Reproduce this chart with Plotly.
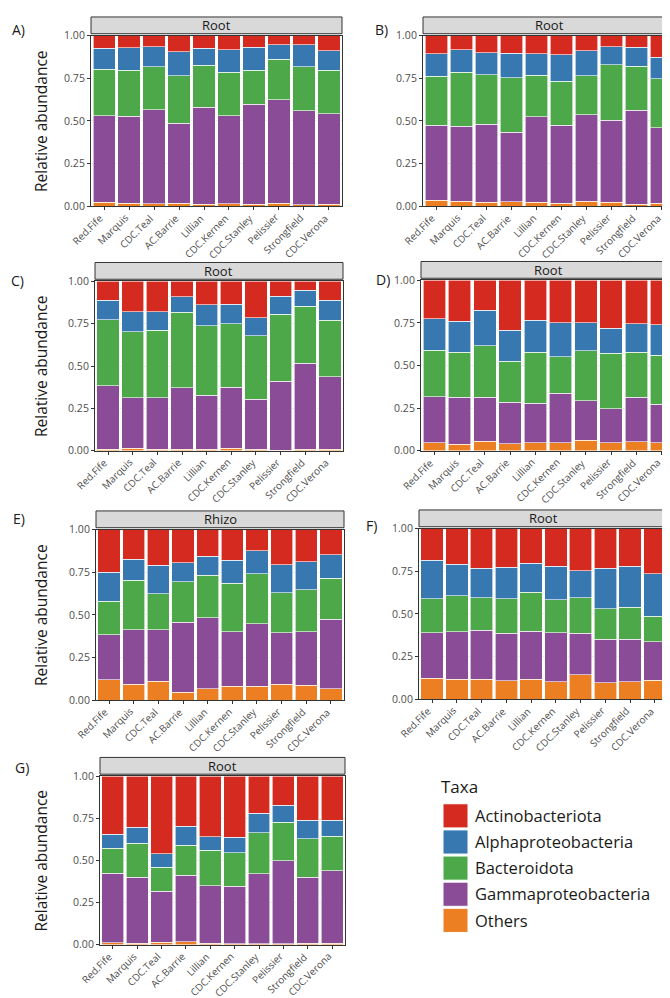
import plotly.graph_objects as go

W, H = 670, 998

cultivars = ["Red.Fife", "Marquis", "CDC.Teal", "AC.Barrie", "Lillian",
             "CDC.Kernen", "CDC.Stanley", "Pelissier", "Strongfield", "CDC.Verona"]
taxa = ["Actinobacteriota", "Alphaproteobacteria", "Bacteroidota",
        "Gammaproteobacteria", "Others"]
taxa_colors = ["#D52A1F", "#3778B1", "#4DA84A", "#8A4B97", "#EB7F22"]
panel_letters = ["A)", "B)", "C)", "D)", "E)", "F)", "G)"]
strip_titles = ["Root", "Root", "Root", "Root", "Rhizo", "Root", "Root"]
y_ticks = [0, 0.25, 0.5, 0.75, 1.0]
y_tick_labels = ["0.00", "0.25", "0.50", "0.75", "1.00"]

# ---- Panel A ----
A_others = [0.023, 0.017, 0.015, 0.019, 0.013, 0.015, 0.013, 0.017, 0.010, 0.012]
A_gamma  = [0.507, 0.511, 0.551, 0.467, 0.569, 0.515, 0.584, 0.607, 0.549, 0.529]
A_bact   = [0.273, 0.270, 0.251, 0.279, 0.245, 0.256, 0.201, 0.237, 0.260, 0.257]
A_alpha  = [0.122, 0.131, 0.119, 0.141, 0.100, 0.133, 0.133, 0.087, 0.127, 0.113]
A_actino = [0.075, 0.071, 0.064, 0.094, 0.073, 0.081, 0.069, 0.052, 0.054, 0.089]
# ---- Panel B ----
B_others = [0.035, 0.029, 0.023, 0.027, 0.025, 0.019, 0.029, 0.025, 0.012, 0.019]
B_gamma  = [0.439, 0.439, 0.457, 0.406, 0.501, 0.455, 0.509, 0.480, 0.551, 0.441]
B_bact   = [0.288, 0.317, 0.290, 0.321, 0.242, 0.259, 0.228, 0.325, 0.259, 0.289]
B_alpha  = [0.132, 0.132, 0.131, 0.142, 0.126, 0.155, 0.145, 0.106, 0.110, 0.125]
B_actino = [0.106, 0.083, 0.099, 0.104, 0.106, 0.112, 0.089, 0.064, 0.068, 0.126]
# ---- Panel C ----
C_others = [0.010, 0.014, 0.010, 0.010, 0.008, 0.016, 0.008, 0.004, 0.008, 0.008]
C_gamma  = [0.374, 0.298, 0.304, 0.362, 0.320, 0.358, 0.296, 0.407, 0.508, 0.430]
C_bact   = [0.389, 0.391, 0.397, 0.444, 0.410, 0.374, 0.374, 0.393, 0.335, 0.333]
C_alpha  = [0.115, 0.117, 0.109, 0.093, 0.122, 0.116, 0.107, 0.107, 0.097, 0.117]
C_actino = [0.112, 0.180, 0.180, 0.091, 0.140, 0.136, 0.215, 0.089, 0.052, 0.112]
# ---- Panel D ----
D_others = [0.046, 0.037, 0.056, 0.040, 0.046, 0.046, 0.063, 0.046, 0.052, 0.046]
D_gamma  = [0.271, 0.276, 0.257, 0.245, 0.233, 0.291, 0.229, 0.200, 0.263, 0.227]
D_bact   = [0.273, 0.266, 0.302, 0.240, 0.300, 0.215, 0.295, 0.325, 0.264, 0.287]
D_alpha  = [0.185, 0.181, 0.208, 0.183, 0.186, 0.200, 0.165, 0.148, 0.165, 0.180]
D_actino = [0.225, 0.240, 0.177, 0.292, 0.235, 0.248, 0.248, 0.281, 0.256, 0.260]
# ---- Panel E ----
E_others = [0.120, 0.093, 0.112, 0.048, 0.066, 0.081, 0.081, 0.093, 0.089, 0.066]
E_gamma  = [0.265, 0.321, 0.302, 0.410, 0.418, 0.321, 0.368, 0.302, 0.313, 0.410]
E_bact   = [0.195, 0.290, 0.209, 0.238, 0.249, 0.285, 0.292, 0.236, 0.246, 0.238]
E_alpha  = [0.169, 0.122, 0.168, 0.111, 0.110, 0.135, 0.135, 0.164, 0.164, 0.139]
E_actino = [0.251, 0.174, 0.209, 0.193, 0.157, 0.178, 0.124, 0.205, 0.188, 0.147]
# ---- Panel F ----
F_others = [0.123, 0.118, 0.116, 0.110, 0.118, 0.104, 0.145, 0.098, 0.102, 0.112]
F_gamma  = [0.268, 0.277, 0.289, 0.278, 0.281, 0.287, 0.243, 0.255, 0.251, 0.225]
F_bact   = [0.199, 0.212, 0.191, 0.202, 0.228, 0.193, 0.208, 0.177, 0.187, 0.151]
F_alpha  = [0.225, 0.185, 0.171, 0.183, 0.171, 0.195, 0.158, 0.237, 0.241, 0.247]
F_actino = [0.185, 0.208, 0.233, 0.227, 0.202, 0.221, 0.246, 0.233, 0.219, 0.265]
# ---- Panel G ----
G_others = [0.012, 0.008, 0.014, 0.019, 0.008, 0.006, 0.006, 0.006, 0.010, 0.008]
G_gamma  = [0.412, 0.393, 0.302, 0.394, 0.343, 0.341, 0.415, 0.492, 0.391, 0.430]
G_bact   = [0.148, 0.200, 0.143, 0.176, 0.209, 0.200, 0.244, 0.229, 0.227, 0.205]
G_alpha  = [0.083, 0.097, 0.080, 0.113, 0.080, 0.091, 0.116, 0.101, 0.110, 0.095]
G_actino = [0.345, 0.302, 0.461, 0.298, 0.360, 0.362, 0.219, 0.172, 0.262, 0.262]

panels = [
    {"Actinobacteriota": A_actino, "Alphaproteobacteria": A_alpha, "Bacteroidota": A_bact, "Gammaproteobacteria": A_gamma, "Others": A_others},
    {"Actinobacteriota": B_actino, "Alphaproteobacteria": B_alpha, "Bacteroidota": B_bact, "Gammaproteobacteria": B_gamma, "Others": B_others},
    {"Actinobacteriota": C_actino, "Alphaproteobacteria": C_alpha, "Bacteroidota": C_bact, "Gammaproteobacteria": C_gamma, "Others": C_others},
    {"Actinobacteriota": D_actino, "Alphaproteobacteria": D_alpha, "Bacteroidota": D_bact, "Gammaproteobacteria": D_gamma, "Others": D_others},
    {"Actinobacteriota": E_actino, "Alphaproteobacteria": E_alpha, "Bacteroidota": E_bact, "Gammaproteobacteria": E_gamma, "Others": E_others},
    {"Actinobacteriota": F_actino, "Alphaproteobacteria": F_alpha, "Bacteroidota": F_bact, "Gammaproteobacteria": F_gamma, "Others": F_others},
    {"Actinobacteriota": G_actino, "Alphaproteobacteria": G_alpha, "Bacteroidota": G_bact, "Gammaproteobacteria": G_gamma, "Others": G_others},
]

# Plot-area boxes in pixels: (left, right, top, bottom)
boxes = [
    (83, 334, 21, 194),
    (415, 667, 21, 194),
    (87, 335, 270, 442),
    (413, 667, 269, 442),
    (88, 336, 522, 695),
    (411, 660, 521, 694),
    (92, 337, 772, 943),
]
strip_h = 17
label_pos = [(2, 15), (365, 15), (1, 269), (366, 268), (3, 511), (356, 518), (5, 763)]
ytitle_panels = [0, 2, 4, 6]

FONT = "Open Sans, Lato, sans-serif"


def px_x(x):
    return x / W


def px_y(y):
    return 1 - y / H


fig = go.Figure()
shapes, annotations = [], []

stack_order = ["Others", "Gammaproteobacteria", "Bacteroidota", "Alphaproteobacteria", "Actinobacteriota"]
color_of = dict(zip(taxa, taxa_colors))

for i, data in enumerate(panels):
    k = "" if i == 0 else str(i + 1)
    for t in stack_order:
        fig.add_trace(go.Bar(
            x=cultivars, y=data[t], name=t,
            marker=dict(color=color_of[t], line=dict(color="white", width=0.6)),
            xaxis="x" + k, yaxis="y" + k, showlegend=False,
            hovertemplate="%{x}<br>" + t + ": %{y:.3f}<extra></extra>",
        ))
    l, r, tp, b = boxes[i]
    fig.update_layout(**{
        "xaxis" + k: dict(
            domain=[px_x(l), px_x(r)], anchor="y" + k,
            range=[-0.53, 9.53], showline=True, mirror=True,
            linecolor="#333333", linewidth=1, ticks="outside", ticklen=3,
            tickcolor="#333333", showticklabels=False,
            showgrid=False, zeroline=False,
        ),
        "yaxis" + k: dict(
            domain=[px_y(b), px_y(tp)], anchor="x" + k,
            range=[0, 1.0], tickvals=y_ticks, ticktext=y_tick_labels,
            showline=True, mirror=True, linecolor="#333333", linewidth=1,
            ticks="outside", ticklen=3, tickcolor="#333333",
            tickfont=dict(family=FONT, size=10.5, color="#4D4D4D"),
            showgrid=True, gridcolor="#EBEBEB", zeroline=False,
        ),
    })
    # rotated category labels, ending at each tick (ggplot style)
    for c in cultivars:
        annotations.append(dict(
            text=c, xref="x" + k, yref="paper", x=c, y=px_y(b + 2),
            xshift=5, textangle=-45, showarrow=False,
            xanchor="right", yanchor="top",
            font=dict(family=FONT, size=10, color="#4D4D4D"),
        ))
    # strip header
    shapes.append(dict(type="rect", xref="paper", yref="paper",
                       x0=px_x(l), x1=px_x(r), y0=px_y(tp - 2), y1=px_y(tp - 2 - strip_h),
                       fillcolor="#D9D9D9", line=dict(color="#333333", width=1)))
    annotations.append(dict(text=strip_titles[i], xref="paper", yref="paper",
                            x=px_x((l + r) / 2), y=px_y(tp - 2 - strip_h / 2),
                            showarrow=False, font=dict(family=FONT, size=13, color="#1A1A1A"),
                            xanchor="center", yanchor="middle"))
    # panel letter
    lx, ly = label_pos[i]
    annotations.append(dict(text=panel_letters[i], xref="paper", yref="paper",
                            x=px_x(lx), y=px_y(ly), showarrow=False,
                            font=dict(family=FONT, size=14, color="#1A1A1A"),
                            xanchor="left", yanchor="middle"))
    if i in ytitle_panels:
        annotations.append(dict(text="Relative abundance", xref="paper", yref="paper",
                                x=px_x(33), y=px_y((tp + b) / 2), showarrow=False,
                                textangle=-90, font=dict(family=FONT, size=15.5, color="#1A1A1A"),
                                xanchor="center", yanchor="middle"))

# Legend (drawn manually to match the large swatches)
annotations.append(dict(text="Taxa", xref="paper", yref="paper",
                        x=px_x(431), y=px_y(782), showarrow=False,
                        font=dict(family=FONT, size=17, color="#1A1A1A"),
                        xanchor="left", yanchor="middle"))
leg_tops = [800, 826.5, 853, 879.5, 906]
for j, t in enumerate(taxa):
    y0 = leg_tops[j]
    shapes.append(dict(type="rect", xref="paper", yref="paper",
                       x0=px_x(435), x1=px_x(460), y0=px_y(y0), y1=px_y(y0 + 24.5),
                       fillcolor=taxa_colors[j], line=dict(color="white", width=1)))
    annotations.append(dict(text=t, xref="paper", yref="paper",
                            x=px_x(465), y=px_y(y0 + 12), showarrow=False,
                            font=dict(family=FONT, size=16.5, color="#1A1A1A"),
                            xanchor="left", yanchor="middle"))

fig.update_layout(
    width=W, height=H, margin=dict(l=0, r=0, t=0, b=0),
    barmode="stack", bargap=0.1,
    paper_bgcolor="white", plot_bgcolor="white",
    shapes=shapes, annotations=annotations, showlegend=False,
    font=dict(family=FONT),
)

fig.write_html("out.html")
